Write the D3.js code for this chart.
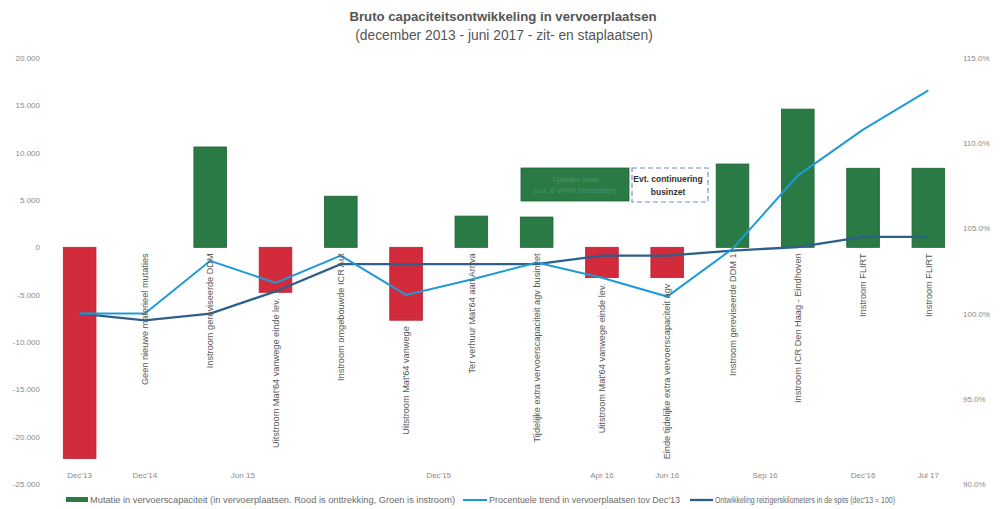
<!doctype html>
<html>
<head>
<meta charset="utf-8">
<style>
  body { margin: 0; background: #fff; }
  svg { font-family: "Liberation Sans", Arial, sans-serif; }
  .tick text { fill: #8a8a8a; font-size: 8px; }
  .catlabel { fill: #5a5a5a; font-size: 9.2px; }
  .legend text { fill: #6a6a6a; font-size: 8.5px; }
</style>
<script src="https://d3js.org/d3.v7.min.js"></script>
</head>
<body>
<svg width="1001" height="509"></svg>
<script>
// categories (one per bar)
var categories = ["c1","c2","c3","c4","c5","c6","c7","c8","c9","c10","c11","c12","c13","c14"];
var barLabels = [
  "",
  "Geen nieuwe materieel mutaties",
  "Instroom gereviseerde DDM",
  "Uitstroom Mat'64 vanwege einde lev.",
  "Instroom omgebouwde ICR Aut",
  "Uitstroom Mat'64 vanwege",
  "Ter verhuur Mat'64 aan Arriva",
  "Tijdelijke extra vervoerscapaciteit agv businzet",
  "Uitstroom Mat'64 vanwege einde lev.",
  "Einde tijdelijke extra vervoerscapaciteit agv",
  "Instroom gereviseerde DDM 1",
  "Instroom ICR Den Haag - Eindhoven",
  "Instroom FLIRT",
  "Instroom FLIRT"
];
// mutatie in vervoerplaatsen
var mutatie = [-22300, 0, 10600, -4750, 5400, -7700, 3300, 3200, -3200, -3200, 8800, 14600, 8350, 8350];
// procentuele trend vervoerplaatsen tov Dec'13
var trend = [100.0, 100.0, 103.1, 101.8, 103.4, 101.1, 102.0, 103.0, 102.1, 101.0, 103.8, 108.1, 110.8, 113.1];
// reizigerskilometers in de spits (dec'13 = 100)
var reizigers = [100.0, 99.6, 100.0, 101.3, 102.9, 102.9, 102.9, 102.9, 103.4, 103.4, 103.7, 103.9, 104.5, 104.5];

// period labels on the x axis: [label, first category index, last category index]
var periods = [["Dec'13",0,0],["Dec'14",1,1],["Jun 15",2,3],["Dec'15",4,7],["Apr 16",8,8],["Jun 16",9,9],["Sep 16",10,11],["Dec'16",12,12],["Jul 17",13,13]];

var leftTicks = [20000, 15000, 10000, 5000, 0, -5000, -10000, -15000, -20000, -25000];
var rightTicks = [115, 110, 105, 100, 95, 90];

var red = "#d22b3c", green = "#2a7a46", lightBlue = "#1e9bd7", darkBlue = "#2e5f8b";

var svg = d3.select("svg");
var yTop = 58, yBottom = 484;

var x = d3.scaleBand().domain(categories).range([47, 961]).paddingInner(0.5).paddingOuter(0.25);
var yL = d3.scaleLinear().domain([-25000, 20000]).range([yBottom, yTop]);
var yR = d3.scaleLinear().domain([90, 115]).range([yBottom, yTop]);

var nl = d3.formatLocale({decimal: ",", thousands: ".", grouping: [3], currency: ["", ""], minus: "-"});

// title
svg.append("text").attr("x", 503).attr("y", 21).attr("text-anchor", "middle")
   .attr("font-size", 13.2).attr("font-weight", "bold").attr("fill", "#555")
   .text("Bruto capaciteitsontwikkeling in vervoerplaatsen");
svg.append("text").attr("x", 504).attr("y", 40).attr("text-anchor", "middle")
   .attr("font-size", 13.8).attr("fill", "#555")
   .text("(december 2013 - juni 2017 - zit- en staplaatsen)");

// axes
var gl = svg.append("g").attr("transform", "translate(40,0)")
   .call(d3.axisLeft(yL).tickValues(leftTicks).tickSize(0).tickPadding(0).tickFormat(nl.format(",")));
gl.select(".domain").remove();

var gr = svg.append("g").attr("transform", "translate(963,0)")
   .call(d3.axisRight(yR).tickValues(rightTicks).tickSize(0).tickPadding(0).tickFormat(function(d){ return d3.format(".1f")(d) + "%"; }));
gr.select(".domain").remove();

// bars
svg.selectAll(".bar").data(mutatie).enter().append("rect")
   .attr("class", "bar")
   .attr("x", function(d, i){ return x(categories[i]); })
   .attr("width", x.bandwidth())
   .attr("y", function(d){ return yL(Math.max(0, d)); })
   .attr("height", function(d){ return Math.abs(yL(d) - yL(0)); })
   .attr("fill", function(d){ return d < 0 ? red : green; })
   .attr("stroke", function(d){ return d < 0 ? "#b8202f" : "#1f6236"; })
   .attr("stroke-width", function(d){ return d === 0 ? 0 : 0.8; });

// annotation: tijdelijke inzet / evt. continuering
svg.append("rect").attr("x", 521).attr("y", 168).attr("width", 108).attr("height", 33)
   .attr("fill", green).attr("stroke", "#1f6236").attr("stroke-width", 0.8);
svg.append("text").attr("x", 575).attr("y", 182).attr("text-anchor", "middle")
   .attr("font-size", 7.5).attr("fill", "#4f9467").text("Tijdelijke inzet");
svg.append("text").attr("x", 575).attr("y", 193).attr("text-anchor", "middle")
   .attr("font-size", 7.5).attr("fill", "#4f9467").text("(o.a. 6 VIRM treinstellen)");
svg.append("rect").attr("x", 632).attr("y", 168).attr("width", 76).attr("height", 34)
   .attr("fill", "#fff").attr("stroke", "#6b8fd6").attr("stroke-width", 1.2).attr("stroke-dasharray", "5,3");
svg.append("text").attr("x", 668).attr("y", 182).attr("text-anchor", "middle")
   .attr("font-size", 8.5).attr("font-weight", "bold").attr("fill", "#333").text("Evt. continuering");
svg.append("text").attr("x", 668).attr("y", 195).attr("text-anchor", "middle")
   .attr("font-size", 8.5).attr("font-weight", "bold").attr("fill", "#333").text("businzet");

// lines
var cx = function(i){ return x(categories[i]) + x.bandwidth() / 2; };
var line = d3.line().x(function(d, i){ return cx(i); }).y(function(d){ return yR(d); });

svg.append("path").datum(reizigers).attr("d", line)
   .attr("fill", "none").attr("stroke", darkBlue).attr("stroke-width", 2.3);
svg.append("path").datum(trend).attr("d", line)
   .attr("fill", "none").attr("stroke", lightBlue).attr("stroke-width", 2);

// category labels (rotated)
svg.selectAll(".catlabel").data(barLabels).enter().append("text")
   .attr("class", "catlabel")
   .attr("transform", function(d, i){
     var yt = Math.max(yL(0), yL(Math.min(0, mutatie[i]))) + 6;
     return "translate(" + (cx(i) + 3.2) + "," + yt + ") rotate(-90)";
   })
   .attr("text-anchor", "end")
   .text(function(d){ return d; });

// period labels under the plot
svg.selectAll(".period").data(periods).enter().append("text")
   .attr("class", "period")
   .attr("x", function(d){ return (cx(d[1]) + cx(d[2])) / 2; })
   .attr("y", 478).attr("text-anchor", "middle")
   .attr("font-size", 8).attr("fill", "#8a8a8a")
   .text(function(d){ return d[0]; });

// legend
var lg = svg.append("g").attr("class", "legend");
lg.append("rect").attr("x", 66).attr("y", 497).attr("width", 22).attr("height", 5).attr("fill", green);
lg.append("text").attr("x", 90).attr("y", 503).attr("textLength", 365).attr("lengthAdjust", "spacingAndGlyphs")
  .text("Mutatie in vervoerscapaciteit (in vervoerplaatsen. Rood is onttrekking, Groen is instroom)");
lg.append("line").attr("x1", 463).attr("x2", 487).attr("y1", 500).attr("y2", 500).attr("stroke", lightBlue).attr("stroke-width", 2);
lg.append("text").attr("x", 489).attr("y", 503).attr("textLength", 191).attr("lengthAdjust", "spacingAndGlyphs")
  .text("Procentuele trend in vervoerplaatsen tov Dec'13");
lg.append("line").attr("x1", 690).attr("x2", 713).attr("y1", 500).attr("y2", 500).attr("stroke", darkBlue).attr("stroke-width", 2.3);
lg.append("text").attr("x", 715).attr("y", 503).attr("textLength", 180).attr("lengthAdjust", "spacingAndGlyphs")
  .text("Ontwikkeling reizigerskilometers in de spits (dec'13 = 100)");
</script>
</body>
</html>
